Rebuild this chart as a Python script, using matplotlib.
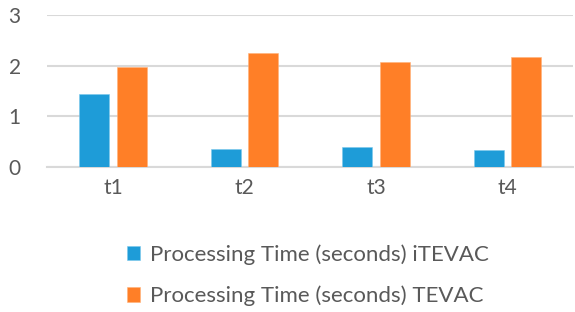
import matplotlib

matplotlib.use("Agg")
import matplotlib.pyplot as plt
import numpy as np

categories = ["t1", "t2", "t3", "t4"]
itevac = [1.44, 0.35, 0.38, 0.33]
tevac = [1.97, 2.24, 2.07, 2.16]
labels = ["Processing Time (seconds) iTEVAC", "Processing Time (seconds) TEVAC"]

plt.rcParams["font.family"] = ["Lato", "DejaVu Sans"]
text_color = "#595959"
grid_color = "#D9D9D9"

fig = plt.figure(figsize=(5.75, 3.12), dpi=100)
ax = fig.add_axes([0.082, 0.466, 0.915, 0.486])

x = np.arange(len(categories))
w = 0.228
ax.bar(x - 0.144, itevac, w, color="#1E9CD8", edgecolor="#7CC8EC", linewidth=0.4, label=labels[0], zorder=3)
ax.bar(x + 0.144, tevac, w, color="#FF7F27", edgecolor="#FFB27A", linewidth=0.4, label=labels[1], zorder=3)

ax.set_xlim(-0.5, len(categories) - 0.5)
ax.set_ylim(0, 3)
ax.set_yticks([0, 1, 2, 3])
ax.set_xticks(x)
ax.set_xticklabels(categories)
ax.yaxis.grid(True, color=grid_color, linewidth=1.5, zorder=0)
for side in ("top", "right", "left"):
    ax.spines[side].set_visible(False)
ax.spines["bottom"].set_color(grid_color)
ax.spines["bottom"].set_linewidth(1.5)
ax.tick_params(axis="both", length=0, colors=text_color, labelsize=15)
ax.tick_params(axis="y", pad=19)
ax.tick_params(axis="x", pad=8)

fig.legend(loc="center", bbox_to_anchor=(0.535, 0.118), ncol=1, frameon=False,
           fontsize=16, labelcolor=text_color, handlelength=0.6, handleheight=0.6,
           handletextpad=0.45, labelspacing=0.95)

fig.savefig("out.png", dpi=100)
